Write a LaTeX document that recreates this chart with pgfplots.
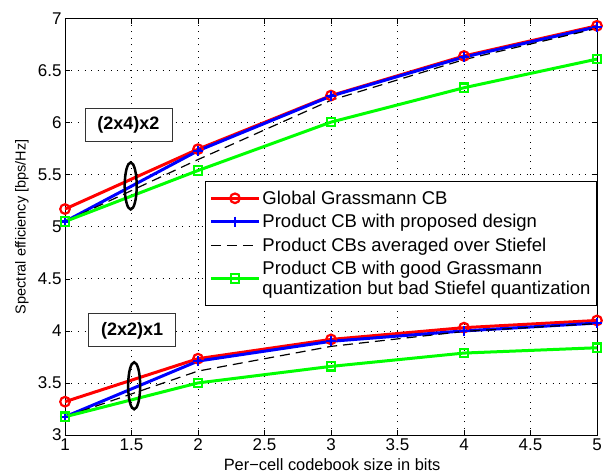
\documentclass[border=0pt]{standalone}
\usepackage{pgfplots}
\pgfplotsset{compat=1.18}
\usepackage{fontspec}
\setmainfont{Liberation Sans}
\begin{document}
\begin{tikzpicture}
\begin{axis}[
  scale only axis,
  width=532pt, height=416.5pt,
  xmin=1, xmax=5, ymin=3, ymax=7,
  xtick={1,1.5,2,2.5,3,3.5,4,4.5,5},
  ytick={3,3.5,4,4.5,5,5.5,6,6.5,7},
  /pgf/number format/assume math mode=true,
  ticklabel style={font=\fontsize{17}{18}\selectfont},
  tick align=inside,
  major tick length=5pt,
  tick style={black, line width=0.6pt},
  axis line style={line width=0.8pt},
  grid=major,
  major grid style={black, dash pattern=on 1pt off 5.5pt, line width=0.7pt},
  xlabel={Per\textminus cell codebook size in bits},
  ylabel={Spectral efficiency [bps/Hz]},
  xlabel style={font=\fontsize{16.4}{18}\selectfont, at={(axis description cs:0.502,-0.072)}, anchor=center},
  ylabel style={font=\fontsize{14.5}{16}\selectfont, at={(axis description cs:-0.081,0.5)}, anchor=center},
  legend cell align=left,
  legend image code/.code={\draw[mark repeat=2,mark phase=2] plot coordinates {(0pt,0pt)(24pt,0pt)(48pt,0pt)};},
  legend style={at={(1,0.61)}, anchor=north east, draw=black, line width=0.8pt,
    font=\fontsize{18.5}{20}\selectfont, cells={align=left}, inner xsep=4pt, inner ysep=7.5pt,
    row sep=4.5pt},
]
% (2x4)x2
\addplot[red, line width=3pt, mark=o, mark size=4.8pt, mark options={line width=2.2pt}] coordinates {(1,5.17)(2,5.745)(3,6.26)(4,6.64)(5,6.93)};
\addlegendentry{Global Grassmann CB}
\addplot[blue, line width=3pt, mark=+, mark size=5pt, mark options={line width=2.2pt}] coordinates {(1,5.05)(2,5.73)(3,6.255)(4,6.63)(5,6.92)};
\addlegendentry{Product CB with proposed design}
\addplot[black, line width=1.2pt, dash pattern=on 10pt off 6pt] coordinates {(1,5.05)(2,5.645)(3,6.215)(4,6.605)(5,6.905)};
\addlegendentry{Product CBs averaged over Stiefel}
\addplot[green, line width=3pt, mark=square, mark size=4.2pt, mark options={line width=2.2pt}] coordinates {(1,5.05)(2,5.54)(3,6.005)(4,6.335)(5,6.61)};
\addlegendentry{Product CB with good Grassmann\\quantization but bad Stiefel quantization}
% (2x2)x1
\addplot[red, line width=3pt, mark=o, mark size=4.8pt, mark options={line width=2.2pt}, forget plot] coordinates {(1,3.32)(2,3.733)(3,3.918)(4,4.031)(5,4.1)};
\addplot[blue, line width=3pt, mark=+, mark size=5pt, mark options={line width=2.2pt}, forget plot] coordinates {(1,3.175)(2,3.71)(3,3.9)(4,4.0)(5,4.075)};
\addplot[black, line width=1.2pt, dash pattern=on 10pt off 6pt, forget plot] coordinates {(1,3.175)(2,3.614)(3,3.851)(4,3.995)(5,4.07)};
\addplot[green, line width=3pt, mark=square, mark size=4.2pt, mark options={line width=2.2pt}, forget plot] coordinates {(1,3.175)(2,3.5)(3,3.659)(4,3.787)(5,3.838)};
% annotations
\node[draw=black!80, fill=white, line width=0.8pt, minimum width=87pt, minimum height=33pt, inner sep=0pt, font=\fontsize{18}{20}\selectfont\bfseries] at (axis cs:1.477,5.976) {(2x4)x2};
\node[draw=black!80, fill=white, line width=0.8pt, minimum width=87pt, minimum height=33pt, inner sep=0pt, font=\fontsize{18}{20}\selectfont\bfseries] at (axis cs:1.504,4.005) {(2x2)x1};
\draw[black, line width=2.5pt] (axis cs:1.494,5.392) ellipse [x radius=6pt, y radius=23.5pt];
\draw[black, line width=2.5pt] (axis cs:1.52,3.473) ellipse [x radius=6pt, y radius=23.5pt];
\end{axis}
\pgfresetboundingbox
\path[use as bounding box] (-65pt,-40pt) rectangle (548pt,435pt);
\end{tikzpicture}
\end{document}
